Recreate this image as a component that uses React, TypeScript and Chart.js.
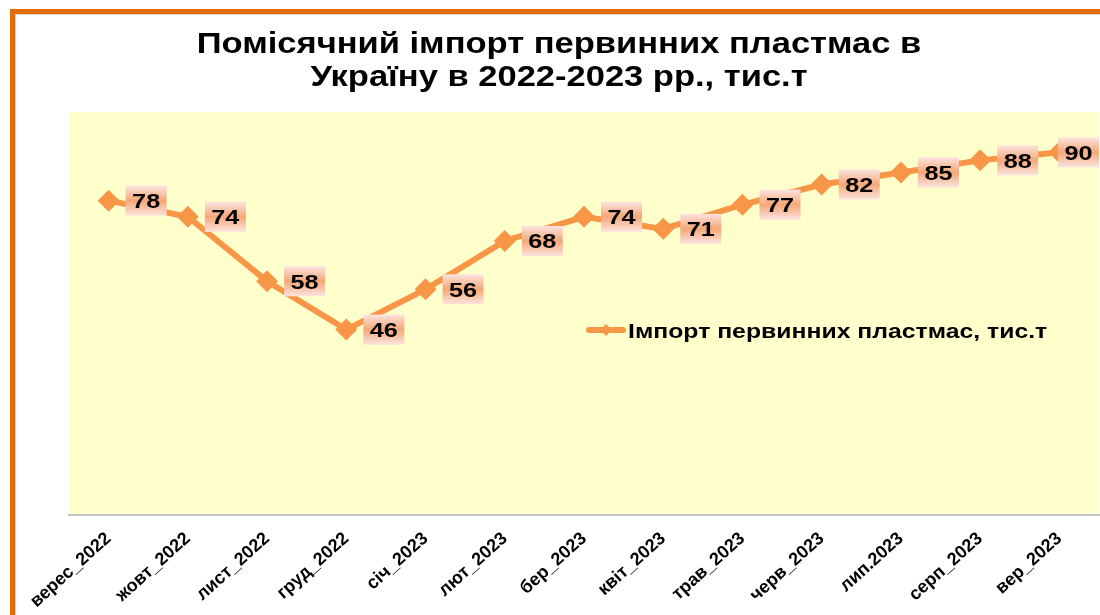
import React, { useEffect, useRef } from "react";
import { Chart, registerables } from "chart.js";

Chart.register(...registerables);

const TITLE_LINES = [
  "Помісячний імпорт первинних пластмас в",
  "Україну в 2022-2023 рр., тис.т",
];
const MONTHS = [
  "верес_2022",
  "жовт_2022",
  "лист_2022",
  "груд_2022",
  "січ_2023",
  "лют_2023",
  "бер_2023",
  "квіт_2023",
  "трав_2023",
  "черв_2023",
  "лип.2023",
  "серп_2023",
  "вер_2023",
];
const IMPORT_VALUES = [78, 74, 58, 46, 56, 68, 74, 71, 77, 82, 85, 88, 90];
const SERIES_NAME = "Імпорт первинних пластмас, тис.т";
const Y_MIN = 0;
const Y_MAX = 100;

const LINE_COLOR = "#f79646";
const PLOT_BG = "#ffffcc";
const FONT = "'Liberation Sans', Arial, sans-serif";

function stretchedText(
  ctx: CanvasRenderingContext2D,
  text: string,
  x: number,
  y: number,
  font: string,
  align: CanvasTextAlign,
  sx: number
) {
  ctx.save();
  ctx.font = font;
  ctx.textAlign = align;
  ctx.textBaseline = "alphabetic";
  ctx.fillStyle = "#000";
  ctx.translate(x, y);
  ctx.scale(sx, 1);
  ctx.fillText(text, 0, 0);
  ctx.restore();
}

const decorPlugin = {
  id: "decor",
  beforeDraw(chart: any) {
    const { ctx, chartArea } = chart;
    ctx.save();
    ctx.fillStyle = PLOT_BG;
    ctx.fillRect(
      chartArea.left,
      chartArea.top,
      chartArea.right - chartArea.left,
      chartArea.bottom - chartArea.top
    );
    ctx.restore();
    // title
    stretchedText(ctx, TITLE_LINES[0], 559, 53, `bold 29px ${FONT}`, "center", 1.19);
    stretchedText(ctx, TITLE_LINES[1], 559, 85.5, `bold 29px ${FONT}`, "center", 1.19);
  },
  afterDatasetsDraw(chart: any) {
    const { ctx, chartArea } = chart;
    const meta = chart.getDatasetMeta(0);
    const values = chart.data.datasets[0].data as number[];
    const font = `bold 21px ${FONT}`;
    const sx = 1.2;
    meta.data.forEach((pt: any, i: number) => {
      const text = String(values[i]);
      ctx.save();
      ctx.font = font;
      const tw = ctx.measureText(text).width * sx;
      ctx.restore();
      const w = tw + 13;
      const h = 30;
      let bx = pt.x + 17;
      if (bx + w > chartArea.right) bx = chartArea.right - w;
      const by = pt.y - h / 2;
      ctx.save();
      const g = ctx.createLinearGradient(0, by, 0, by + h);
      g.addColorStop(0, "#fce3e0");
      g.addColorStop(0.5, "#f4a877");
      g.addColorStop(1, "#fce3e0");
      ctx.fillStyle = g;
      ctx.fillRect(bx, by, w, h);
      ctx.restore();
      stretchedText(ctx, text, bx + w / 2, pt.y + 7.5, font, "center", sx);
    });

    // legend (inside plot area)
    ctx.save();
    ctx.strokeStyle = LINE_COLOR;
    ctx.lineWidth = 6;
    ctx.lineCap = "round";
    ctx.beginPath();
    ctx.moveTo(589, 330);
    ctx.lineTo(623, 330);
    ctx.stroke();
    ctx.fillStyle = LINE_COLOR;
    ctx.beginPath();
    ctx.moveTo(606 - 6, 330);
    ctx.lineTo(606, 324);
    ctx.lineTo(606 + 6, 330);
    ctx.lineTo(606, 336);
    ctx.closePath();
    ctx.fill();
    ctx.restore();
    stretchedText(ctx, SERIES_NAME, 628, 337.5, `bold 21px ${FONT}`, "left", 1.18);
  },
};

export default function App() {
  const canvasRef = useRef<HTMLCanvasElement | null>(null);

  useEffect(() => {
    if (!canvasRef.current) return;
    const chart = new Chart(canvasRef.current, {
      type: "line",
      data: {
        labels: MONTHS,
        datasets: [
          {
            label: SERIES_NAME,
            data: IMPORT_VALUES,
            borderColor: LINE_COLOR,
            backgroundColor: LINE_COLOR,
            borderWidth: 6,
            pointStyle: "rectRot",
            pointRadius: 11,
            pointHoverRadius: 11,
            pointBackgroundColor: LINE_COLOR,
            pointBorderColor: LINE_COLOR,
            pointBorderWidth: 0,
            tension: 0,
          },
        ],
      },
      options: {
        animation: false,
        responsive: false,
        maintainAspectRatio: false,
        layout: { padding: { left: 69, right: 6, top: 112, bottom: 0 } },
        plugins: {
          legend: { display: false },
          title: { display: false },
          tooltip: { enabled: false },
        },
        scales: {
          x: {
            offset: true,
            grid: { display: false, drawTicks: false },
            border: { display: true, color: "#c4c4c4", width: 2 },
            ticks: {
              autoSkip: false,
              minRotation: 42,
              maxRotation: 42,
              padding: 13,
              color: "#000",
              font: { family: FONT, weight: "bold", size: 18 },
            },
            afterFit: (scale: any) => {
              scale.height = 100;
            },
          },
          y: {
            display: false,
            min: Y_MIN,
            max: Y_MAX,
          },
        },
      },
      plugins: [decorPlugin],
    });
    return () => chart.destroy();
  }, []);

  return (
    <div
      style={{
        position: "fixed",
        left: 0,
        top: 0,
        width: 1100,
        height: 615,
        overflow: "hidden",
        background: "#fff",
      }}
    >
      <div
        style={{
          position: "absolute",
          left: 10,
          top: 9,
          width: 1200,
          height: 700,
          border: "5px solid #e36c0a",
          boxSizing: "border-box",
        }}
      >
        <div
          style={{
            position: "absolute",
            left: 0,
            top: 0,
            right: 0,
            bottom: 0,
            border: "1px solid #d4d4d4",
          }}
        />
      </div>
      <canvas
        ref={canvasRef}
        width={1110}
        height={615}
        style={{ position: "absolute", left: 0, top: 0, width: 1110, height: 615 }}
      />
    </div>
  );
}
